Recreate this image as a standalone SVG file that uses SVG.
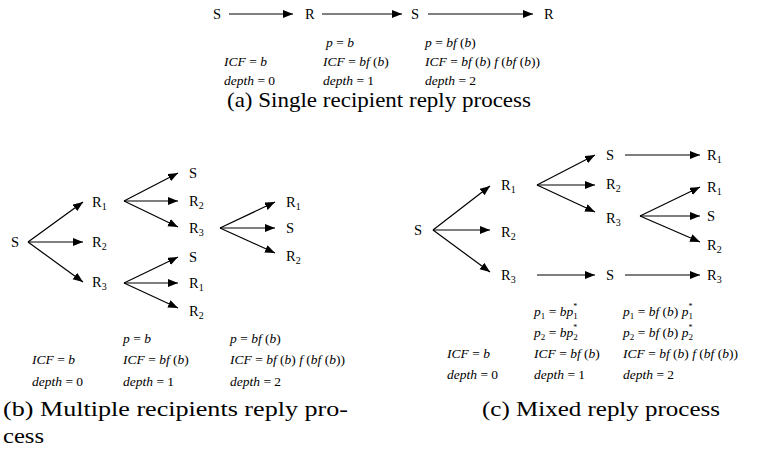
<svg xmlns="http://www.w3.org/2000/svg" width="757" height="456" viewBox="0 0 757 456">
<style>
.n{font-family:"Liberation Serif","Times New Roman",serif;font-size:14.5px;fill:#000}
.s{font-size:10px}
.f{font-family:"Liberation Serif","Times New Roman",serif;font-size:13.5px;fill:#000}
.i{font-style:italic}
.c{font-family:"Liberation Serif","Times New Roman",serif;font-size:21px;fill:#000}
.e{stroke:#000;stroke-width:1.2;fill:none;marker-end:url(#ah)}
</style>
<defs>
<marker id="ah" markerUnits="userSpaceOnUse" markerWidth="11" markerHeight="9" refX="10" refY="4" orient="auto" viewBox="0 0 11 9">
<path d="M0,0 L10,4 L0,8 z" fill="#000"/>
</marker>
</defs>
<g id="connectors">
<line class="e" x1="229" y1="14" x2="293" y2="14"/>
<line class="e" x1="322" y1="14" x2="402" y2="14"/>
<line class="e" x1="428" y1="14" x2="533" y2="14"/>
<line class="e" x1="28" y1="242" x2="83" y2="202"/>
<line class="e" x1="28" y1="242" x2="83" y2="242"/>
<line class="e" x1="28" y1="242" x2="83" y2="282"/>
<line class="e" x1="124" y1="201" x2="178" y2="173"/>
<line class="e" x1="124" y1="201" x2="178" y2="201"/>
<line class="e" x1="124" y1="201" x2="178" y2="227"/>
<line class="e" x1="124" y1="283" x2="178" y2="257"/>
<line class="e" x1="124" y1="283" x2="178" y2="283"/>
<line class="e" x1="124" y1="283" x2="178" y2="308"/>
<line class="e" x1="220" y1="228" x2="275" y2="202"/>
<line class="e" x1="220" y1="228" x2="275" y2="228"/>
<line class="e" x1="220" y1="228" x2="275" y2="253"/>
<line class="e" x1="433" y1="230" x2="490" y2="186"/>
<line class="e" x1="433" y1="230" x2="490" y2="230"/>
<line class="e" x1="433" y1="230" x2="490" y2="272"/>
<line class="e" x1="537" y1="185" x2="595" y2="155"/>
<line class="e" x1="537" y1="185" x2="595" y2="185"/>
<line class="e" x1="537" y1="185" x2="595" y2="212"/>
<line class="e" x1="625" y1="155" x2="700" y2="155"/>
<line class="e" x1="640" y1="216" x2="700" y2="187"/>
<line class="e" x1="640" y1="216" x2="700" y2="216"/>
<line class="e" x1="640" y1="216" x2="700" y2="242"/>
<line class="e" x1="537" y1="275" x2="595" y2="275"/>
<line class="e" x1="625" y1="275" x2="700" y2="275"/>
</g>
<!-- (a) -->
<g id="a-S0"><text class="n" x="213" y="19">S</text></g>
<g id="a-R1"><text class="n" x="305" y="19">R</text></g>
<g id="a-S2"><text class="n" x="411" y="19">S</text></g>
<g id="a-R3"><text class="n" x="544" y="19">R</text></g>
<g id="a-formulas">
<text class="f" x="326" y="47"><tspan class="i">p</tspan> = <tspan class="i">b</tspan></text>
<text class="f" x="425" y="47"><tspan class="i">p</tspan> = <tspan class="i">bf</tspan> (<tspan class="i">b</tspan>)</text>
<text class="f" x="224" y="66"><tspan class="i">ICF</tspan> = <tspan class="i">b</tspan></text>
<text class="f" x="323" y="66"><tspan class="i">ICF</tspan> = <tspan class="i">bf</tspan> (<tspan class="i">b</tspan>)</text>
<text class="f" x="425" y="66"><tspan class="i">ICF</tspan> = <tspan class="i">bf</tspan> (<tspan class="i">b</tspan>) <tspan class="i">f</tspan> (<tspan class="i">bf</tspan> (<tspan class="i">b</tspan>))</text>
<text class="f" x="224" y="85"><tspan class="i">depth</tspan> = 0</text>
<text class="f" x="323" y="85"><tspan class="i">depth</tspan> = 1</text>
<text class="f" x="425" y="85"><tspan class="i">depth</tspan> = 2</text>
</g>
<g id="a-caption"><text class="c" x="227" y="107" textLength="304" lengthAdjust="spacingAndGlyphs">(a) Single recipient reply process</text></g>
<!-- (b) -->
<g id="b-S"><text class="n" x="11" y="247">S</text></g>
<g id="b-R1"><text class="n" x="92" y="207">R<tspan class="s" dy="3">1</tspan></text></g>
<g id="b-R2"><text class="n" x="92" y="247">R<tspan class="s" dy="3">2</tspan></text></g>
<g id="b-R3"><text class="n" x="92" y="287">R<tspan class="s" dy="3">3</tspan></text></g>
<g id="b-S11"><text class="n" x="189" y="178">S</text></g>
<g id="b-R12"><text class="n" x="189" y="206">R<tspan class="s" dy="3">2</tspan></text></g>
<g id="b-R13"><text class="n" x="189" y="233">R<tspan class="s" dy="3">3</tspan></text></g>
<g id="b-S31"><text class="n" x="189" y="262">S</text></g>
<g id="b-R31"><text class="n" x="189" y="288">R<tspan class="s" dy="3">1</tspan></text></g>
<g id="b-R32"><text class="n" x="189" y="316">R<tspan class="s" dy="3">2</tspan></text></g>
<g id="b-R131"><text class="n" x="286" y="207">R<tspan class="s" dy="3">1</tspan></text></g>
<g id="b-S13"><text class="n" x="286" y="233">S</text></g>
<g id="b-R132"><text class="n" x="286" y="261">R<tspan class="s" dy="3">2</tspan></text></g>
<g id="b-formulas">
<text class="f" x="123" y="343"><tspan class="i">p</tspan> = <tspan class="i">b</tspan></text>
<text class="f" x="230" y="343"><tspan class="i">p</tspan> = <tspan class="i">bf</tspan> (<tspan class="i">b</tspan>)</text>
<text class="f" x="32" y="364"><tspan class="i">ICF</tspan> = <tspan class="i">b</tspan></text>
<text class="f" x="123" y="364"><tspan class="i">ICF</tspan> = <tspan class="i">bf</tspan> (<tspan class="i">b</tspan>)</text>
<text class="f" x="230" y="364"><tspan class="i">ICF</tspan> = <tspan class="i">bf</tspan> (<tspan class="i">b</tspan>) <tspan class="i">f</tspan> (<tspan class="i">bf</tspan> (<tspan class="i">b</tspan>))</text>
<text class="f" x="32" y="386"><tspan class="i">depth</tspan> = 0</text>
<text class="f" x="123" y="386"><tspan class="i">depth</tspan> = 1</text>
<text class="f" x="230" y="386"><tspan class="i">depth</tspan> = 2</text>
</g>
<g id="b-caption">
<text class="c" x="3" y="416" textLength="345" lengthAdjust="spacingAndGlyphs">(b) Multiple recipients reply pro-</text>
<text class="c" x="3" y="443" textLength="41" lengthAdjust="spacingAndGlyphs">cess</text>
</g>
<!-- (c) -->
<g id="c-S"><text class="n" x="414" y="235">S</text></g>
<g id="c-R1"><text class="n" x="501" y="190">R<tspan class="s" dy="3">1</tspan></text></g>
<g id="c-R2"><text class="n" x="501" y="237">R<tspan class="s" dy="3">2</tspan></text></g>
<g id="c-R3"><text class="n" x="501" y="280">R<tspan class="s" dy="3">3</tspan></text></g>
<g id="c-S11"><text class="n" x="606" y="160">S</text></g>
<g id="c-R12"><text class="n" x="606" y="189">R<tspan class="s" dy="3">2</tspan></text></g>
<g id="c-R13"><text class="n" x="606" y="223">R<tspan class="s" dy="3">3</tspan></text></g>
<g id="c-R111"><text class="n" x="707" y="160">R<tspan class="s" dy="3">1</tspan></text></g>
<g id="c-R131"><text class="n" x="707" y="192">R<tspan class="s" dy="3">1</tspan></text></g>
<g id="c-S13"><text class="n" x="707" y="221">S</text></g>
<g id="c-R132"><text class="n" x="707" y="250">R<tspan class="s" dy="3">2</tspan></text></g>
<g id="c-S3"><text class="n" x="606" y="280">S</text></g>
<g id="c-R33"><text class="n" x="707" y="280">R<tspan class="s" dy="3">3</tspan></text></g>
<g id="c-formulas">
<text class="f" x="534" y="316"><tspan class="i">p</tspan><tspan font-size="9" dy="2.5">1</tspan><tspan dy="-2.5"> = </tspan><tspan class="i">bp</tspan><tspan font-size="9" dy="2.5">1</tspan><tspan font-size="8" dx="-4.5" dy="-10">*</tspan></text>
<text class="f" x="623" y="316"><tspan class="i">p</tspan><tspan font-size="9" dy="2.5">1</tspan><tspan dy="-2.5"> = </tspan><tspan class="i">bf</tspan> (<tspan class="i">b</tspan>) <tspan class="i">p</tspan><tspan font-size="9" dy="2.5">1</tspan><tspan font-size="8" dx="-4.5" dy="-10">*</tspan></text>
<text class="f" x="534" y="337"><tspan class="i">p</tspan><tspan font-size="9" dy="2.5">2</tspan><tspan dy="-2.5"> = </tspan><tspan class="i">bp</tspan><tspan font-size="9" dy="2.5">2</tspan><tspan font-size="8" dx="-4.5" dy="-10">*</tspan></text>
<text class="f" x="623" y="337"><tspan class="i">p</tspan><tspan font-size="9" dy="2.5">2</tspan><tspan dy="-2.5"> = </tspan><tspan class="i">bf</tspan> (<tspan class="i">b</tspan>) <tspan class="i">p</tspan><tspan font-size="9" dy="2.5">2</tspan><tspan font-size="8" dx="-4.5" dy="-10">*</tspan></text>
<text class="f" x="447" y="358"><tspan class="i">ICF</tspan> = <tspan class="i">b</tspan></text>
<text class="f" x="534" y="358"><tspan class="i">ICF</tspan> = <tspan class="i">bf</tspan> (<tspan class="i">b</tspan>)</text>
<text class="f" x="623" y="358"><tspan class="i">ICF</tspan> = <tspan class="i">bf</tspan> (<tspan class="i">b</tspan>) <tspan class="i">f</tspan> (<tspan class="i">bf</tspan> (<tspan class="i">b</tspan>))</text>
<text class="f" x="447" y="379"><tspan class="i">depth</tspan> = 0</text>
<text class="f" x="534" y="379"><tspan class="i">depth</tspan> = 1</text>
<text class="f" x="623" y="379"><tspan class="i">depth</tspan> = 2</text>
</g>
<g id="c-caption"><text class="c" x="482" y="416" textLength="238" lengthAdjust="spacingAndGlyphs">(c) Mixed reply process</text></g>
</svg>
